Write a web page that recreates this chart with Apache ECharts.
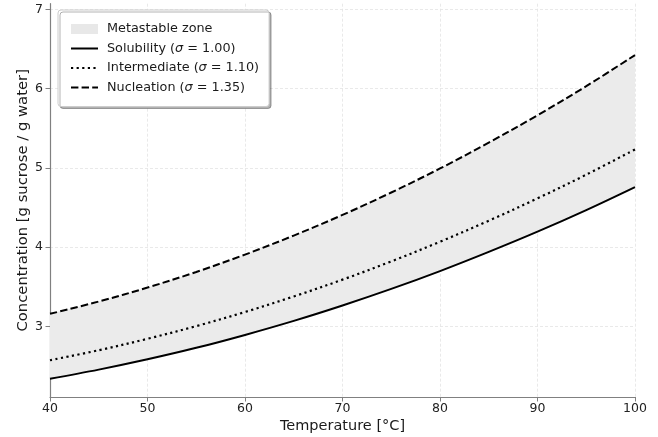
<!DOCTYPE html>
<html>
<head>
<meta charset="utf-8">
<script src="https://cdn.jsdelivr.net/npm/echarts@6/dist/echarts.min.js"></script>
<style>
  html, body { margin: 0; padding: 0; background: #fff; }
  #chart { width: 658px; height: 437px; }
</style>
</head>
<body>
<div id="chart"></div>
<script>
// Sucrose concentration limits vs temperature (g sucrose per g water)
const temperatures = [40, 45, 50, 55, 60, 65, 70, 75, 80, 85, 90, 95, 100];
const solubility   = [2.340, 2.455, 2.585, 2.730, 2.893, 3.070, 3.264, 3.473, 3.698, 3.940, 4.195, 4.467, 4.757];
const intermediate = [2.574, 2.700, 2.844, 3.004, 3.182, 3.378, 3.590, 3.820, 4.068, 4.333, 4.615, 4.914, 5.232];
const nucleation   = [3.159, 3.314, 3.490, 3.687, 3.906, 4.146, 4.406, 4.689, 4.992, 5.318, 5.663, 6.030, 6.422];

const xTicks = [40, 50, 60, 70, 80, 90, 100];
const yTicks = [3, 4, 5, 6, 7];

const curveNames = ['Solubility', 'Intermediate', 'Nucleation'];
const sigmaLabels = ['1.00', '1.10', '1.35'];
const zoneName = 'Metastable zone';

// band thickness stacked on top of the solubility curve
const bandWidth = nucleation.map((v, i) => v - solubility[i]);

const FONT = 'DejaVu Sans';
const GRID_COLOR = '#e3e3e3';
const SPINE = { color: '#808080', width: 1.2 };
const SMOOTH = 0.35;
const onTick = (idx, val) => xTicks.includes(Number(val));

const chart = echarts.init(document.getElementById('chart'), null, { renderer: 'canvas' });

chart.setOption({
  animation: false,
  backgroundColor: '#ffffff',
  grid: {
    left: 50, right: 23, top: 3.7, bottom: 40,
    containLabel: false, outerBoundsMode: 'none'
  },
  xAxis: {
    type: 'category',
    data: temperatures.map(String),
    boundaryGap: false,
    name: 'Temperature [°C]',
    nameLocation: 'middle',
    nameGap: 22,
    nameMoveOverlap: false,
    nameTextStyle: { fontFamily: FONT, fontSize: 14.5, color: '#1a1a1a' },
    axisLine: { show: true, lineStyle: SPINE },
    axisTick: { show: true, length: 4.5, interval: onTick,
                lineStyle: { color: '#808080', width: 1 } },
    axisLabel: { fontFamily: FONT, fontSize: 12.5, color: '#222', margin: 5,
                 interval: onTick },
    splitLine: { show: true, interval: onTick,
                 lineStyle: { color: GRID_COLOR, width: 0.8, type: [3, 2] } }
  },
  yAxis: {
    type: 'value',
    min: 2.11, max: 7.07,
    name: 'Concentration [g sucrose / g water]',
    nameLocation: 'middle',
    nameGap: 19,
    nameMoveOverlap: false,
    nameRotate: 90,
    nameTextStyle: { fontFamily: FONT, fontSize: 14.8, color: '#1a1a1a' },
    axisLine: { show: true, lineStyle: SPINE },
    axisTick: { show: true, length: 4.5, lineStyle: { color: '#808080', width: 1 },
                customValues: yTicks },
    axisLabel: { fontFamily: FONT, fontSize: 12.5, color: '#222', margin: 7,
                 customValues: yTicks },
    splitLine: { show: true, lineStyle: { color: GRID_COLOR, width: 0.8, type: [3, 2] } }
  },
  legend: {
    left: 58, top: 10,
    orient: 'vertical',
    padding: [11, 10, 11, 12],
    itemGap: 3.5,
    itemWidth: 27,
    itemHeight: 10,
    backgroundColor: '#ffffff',
    borderColor: '#cccccc',
    borderWidth: 1,
    borderRadius: 3,
    shadowColor: 'rgba(0,0,0,0.3)',
    shadowBlur: 0,
    shadowOffsetX: 2,
    shadowOffsetY: 2,
    itemStyle: { opacity: 0 },
    data: [
      { name: zoneName, icon: 'rect', itemStyle: { color: '#e8e8e8', opacity: 1, borderWidth: 0 } },
      ...curveNames
    ],
    formatter: name => {
      const i = curveNames.indexOf(name);
      if (i < 0) return name;
      return name + ' ({s|σ} = ' + sigmaLabels[i] + ')';
    },
    textStyle: {
      fontFamily: FONT, fontSize: 12.8, color: '#1a1a1a', lineHeight: 16,
      padding: [0, 0, 0, 4],
      rich: { s: { fontFamily: FONT, fontStyle: 'italic', fontSize: 12.8, color: '#1a1a1a' } }
    }
  },
  series: [
    {
      // lower edge of the shaded band
      name: 'zoneBase',
      type: 'line',
      stack: 'zone',
      data: solubility,
      smooth: SMOOTH,
      symbol: 'none',
      lineStyle: { width: 0, opacity: 0 },
      silent: true,
      z: 1
    },
    {
      name: zoneName,
      type: 'line',
      stack: 'zone',
      data: bandWidth,
      smooth: SMOOTH,
      symbol: 'none',
      lineStyle: { width: 0, opacity: 0 },
      itemStyle: { color: '#e8e8e8' },
      areaStyle: { color: '#ebebeb', opacity: 1 },
      silent: true,
      z: 1
    },
    {
      name: 'Solubility',
      type: 'line',
      data: solubility,
      smooth: SMOOTH,
      symbol: 'none',
      itemStyle: { color: '#000' },
      lineStyle: { color: '#000', width: 2, type: 'solid' },
      z: 3
    },
    {
      name: 'Intermediate',
      type: 'line',
      data: intermediate,
      smooth: SMOOTH,
      symbol: 'none',
      itemStyle: { color: '#000' },
      lineStyle: { color: '#000', width: 2.2, type: [2.2, 3.4] },
      z: 3
    },
    {
      name: 'Nucleation',
      type: 'line',
      data: nucleation,
      smooth: SMOOTH,
      symbol: 'none',
      itemStyle: { color: '#000' },
      lineStyle: { color: '#000', width: 2, type: [7.4, 3.2] },
      z: 3
    }
  ]
});
</script>
</body>
</html>
